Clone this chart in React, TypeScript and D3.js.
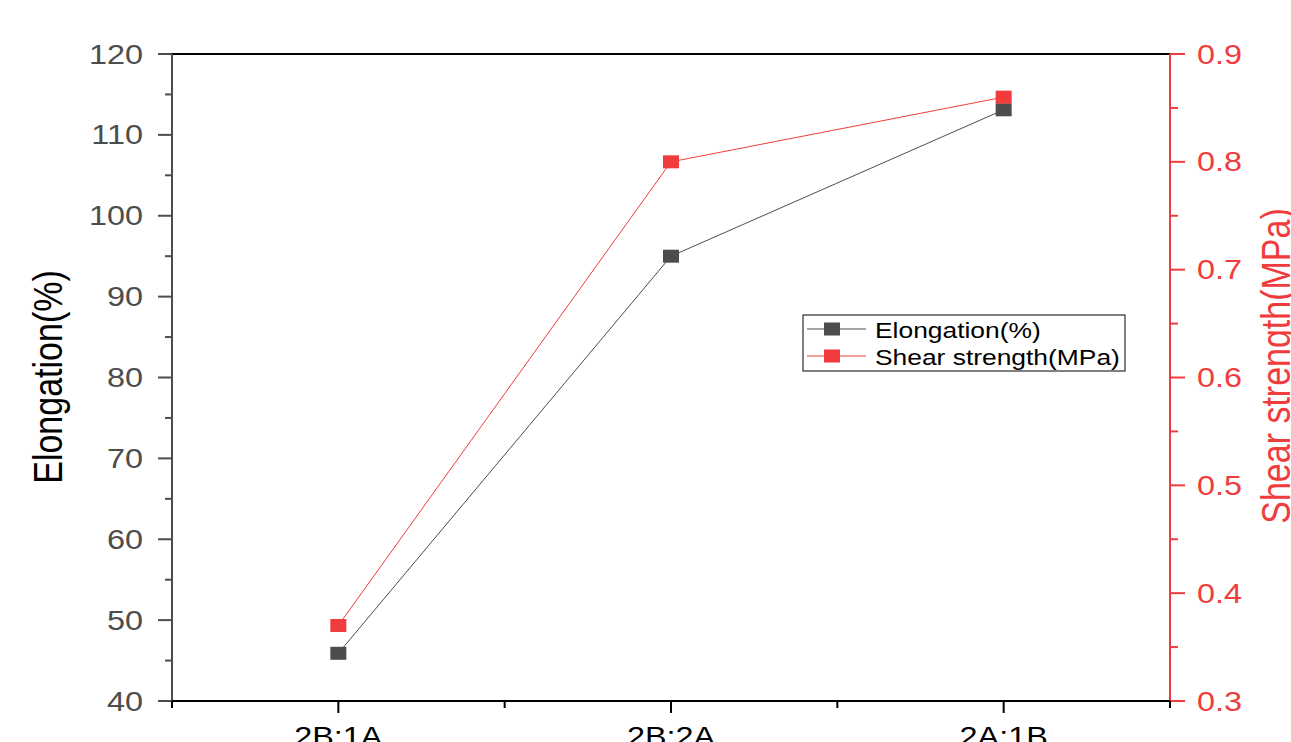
import * as d3 from 'd3';

const categories = ['2B:1A', '2B:2A', '2A:1B'];
const elongation = [45.9, 95, 113.1];
const shear = [0.37, 0.8, 0.86];
const leftTicks = [40, 50, 60, 70, 80, 90, 100, 110, 120];
const rightTicks = [0.3, 0.4, 0.5, 0.6, 0.7, 0.8, 0.9];

const W = 1291;
const H = 742;
const margin = { top: 54, right: 121, bottom: 41, left: 172 };
const SX = 1.2; // horizontal stretch seen in the picture

const GRAY = '#4d4d4d';
const RED = '#f03c3c';
const FONT = 'Liberation Sans, Arial, sans-serif';

function SText({ x, y, size, fill, anchor = 'start', rotate = 0, children }: any) {
  return (
    <text
      transform={`translate(${x},${y}) scale(${SX},1) rotate(${rotate})`}
      fontSize={size}
      fill={fill}
      textAnchor={anchor}
      fontFamily={FONT}
      dominantBaseline="central"
    >
      {children}
    </text>
  );
}

export default function App() {
  const x0 = margin.left;
  const x1 = W - margin.right;
  const y0 = H - margin.bottom;
  const y1 = margin.top;

  const x = d3.scaleLinear().domain([0.5, 3.5]).range([x0, x1]);
  const yL = d3.scaleLinear().domain([40, 120]).range([y0, y1]);
  const yR = d3.scaleLinear().domain([0.3, 0.9]).range([y0, y1]);

  const leftMinor = d3.range(45, 120, 10);
  const rightMinor = d3.range(0.35, 0.9, 0.1);
  const xMinor = [0.5, 1.5, 2.5, 3.5];

  const lineE = d3.line<number>().x((_, i) => x(i + 1)).y(d => yL(d));
  const lineS = d3.line<number>().x((_, i) => x(i + 1)).y(d => yR(d));

  const mw = 16, mh = 13;

  return (
    <svg width={W} height={H} style={{ position: 'fixed', left: 0, top: 0, background: '#fff' }}>
      {/* series lines */}
      <path d={lineE(elongation) || ''} fill="none" stroke={GRAY} strokeWidth={1} />
      <path d={lineS(shear) || ''} fill="none" stroke={RED} strokeWidth={1} />
      {elongation.map((d, i) => (
        <rect key={'e' + i} x={x(i + 1) - mw / 2} y={yL(d) - mh / 2} width={mw} height={mh} fill={GRAY} />
      ))}
      {shear.map((d, i) => (
        <rect key={'s' + i} x={x(i + 1) - mw / 2} y={yR(d) - mh / 2} width={mw} height={mh} fill={RED} />
      ))}

      {/* top axis */}
      <line x1={x0} x2={x1} y1={y1} y2={y1} stroke="#000" strokeWidth={2} />

      {/* left axis */}
      <line x1={x0} x2={x0} y1={y0} y2={y1} stroke={GRAY} strokeWidth={2} />
      {leftTicks.map(t => (
        <g key={'l' + t}>
          <line x1={x0 - 14} x2={x0} y1={yL(t)} y2={yL(t)} stroke={GRAY} strokeWidth={2} />
          <SText x={x0 - 29} y={yL(t)} size={27} fill={GRAY} anchor="end">{t}</SText>
        </g>
      ))}
      {leftMinor.map(t => (
        <line key={'lm' + t} x1={x0 - 7} x2={x0} y1={yL(t)} y2={yL(t)} stroke={GRAY} strokeWidth={2} />
      ))}
      <SText x={48} y={377} size={34} fill="#000" anchor="middle" rotate={-90}>Elongation(%)</SText>

      {/* right axis */}
      <line x1={x1} x2={x1} y1={y0} y2={y1} stroke={RED} strokeWidth={2} />
      {rightTicks.map(t => (
        <g key={'r' + t}>
          <line x1={x1} x2={x1 + 15} y1={yR(t)} y2={yR(t)} stroke={RED} strokeWidth={2} />
          <SText x={x1 + 27} y={yR(t)} size={27} fill={RED} anchor="start">{d3.format('.1f')(t)}</SText>
        </g>
      ))}
      {rightMinor.map(t => (
        <line key={'rm' + t} x1={x1} x2={x1 + 8} y1={yR(t)} y2={yR(t)} stroke={RED} strokeWidth={2} />
      ))}
      <SText x={1276} y={366} size={34} fill={RED} anchor="middle" rotate={-90}>Shear strength(MPa)</SText>

      {/* bottom axis */}
      <line x1={x0} x2={x1} y1={y0} y2={y0} stroke="#000" strokeWidth={2} />
      {categories.map((c, i) => (
        <g key={c}>
          <line x1={x(i + 1)} x2={x(i + 1)} y1={y0} y2={y0 + 12} stroke="#000" strokeWidth={2} />
          <SText x={x(i + 1)} y={y0 + 35} size={27} fill="#000" anchor="middle">{c}</SText>
        </g>
      ))}
      {xMinor.map(t => (
        <line key={'xm' + t} x1={x(t)} x2={x(t)} y1={y0} y2={y0 + 7} stroke="#000" strokeWidth={2} />
      ))}

      {/* legend */}
      <g>
        <rect x={803} y={315} width={322} height={56} fill="#fff" stroke="#000" strokeWidth={1} />
        {[
          { label: 'Elongation(%)', color: GRAY, y: 329 },
          { label: 'Shear strength(MPa)', color: RED, y: 356 },
        ].map(l => (
          <g key={l.label}>
            <line x1={807} x2={866} y1={l.y} y2={l.y} stroke={l.color} strokeWidth={1} />
            <rect x={832 - mw / 2} y={l.y - mh / 2} width={mw} height={mh} fill={l.color} />
            <SText x={875} y={l.y + 1} size={22} fill="#000">{l.label}</SText>
          </g>
        ))}
      </g>
    </svg>
  );
}
